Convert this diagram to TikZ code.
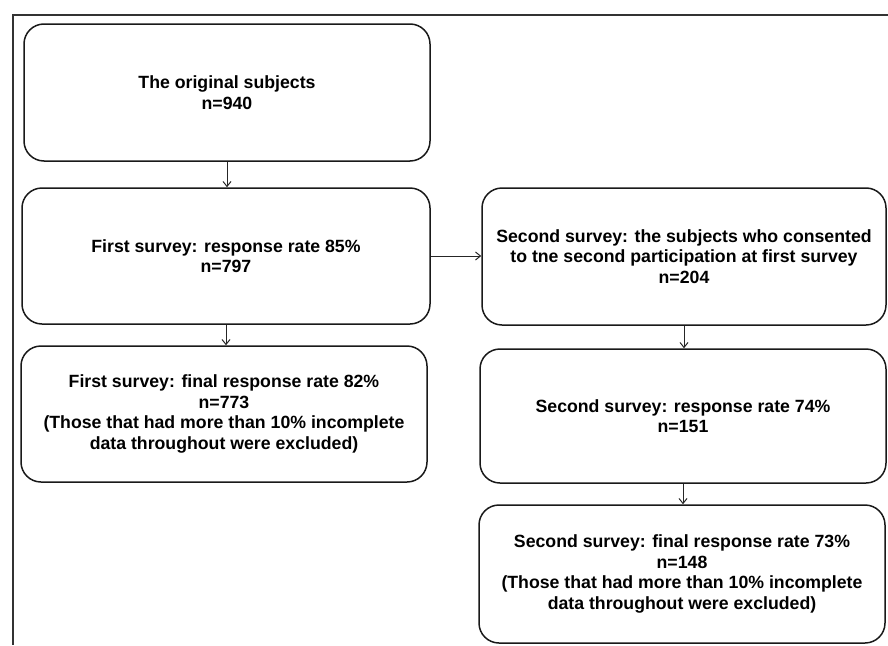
\documentclass[tikz,border=0pt]{standalone}
\usepackage{fontspec}
\setmainfont{Liberation Sans}
\usetikzlibrary{arrows.meta}
\begin{document}
\begin{tikzpicture}[x=1pt,y=-1pt,
  flowbox/.style={draw=black!90, line width=1.5pt, rounded corners=20pt,
    inner sep=0pt, align=center,
    font=\fontsize{17.7}{20.5}\selectfont\bfseries},
  flowarrow/.style={draw=black!85, line width=1pt,
    -{Straight Barb[length=5pt,width=8pt]}}]
\useasboundingbox (0,0) rectangle (888,645);
\draw[line width=1.6pt, black!80] (888,15) -- (13,15) -- (13,645);
\node[flowbox, minimum width=406pt, minimum height=137pt] (b1) at (227,92.5)
  {The original subjects\\n=940};
\node[flowbox, minimum width=408pt, minimum height=136pt] (b2) at (226,256)
  {First survey: response rate 85\%\\n=797};
\node[flowbox, minimum width=406pt, minimum height=136pt] (b3) at (224,414)
  {First survey: final response rate 82\%\\n=773\\(Those that had more than 10\% incomplete\\data throughout were excluded)};
\node[flowbox, minimum width=404pt, minimum height=137pt] (b4) at (684,256.5)
  {Second survey: the subjects who consented\\to tne second participation at first survey\\n=204};
\node[flowbox, minimum width=406pt, minimum height=134pt] (b5) at (683,416)
  {Second survey: response rate 74\%\\n=151};
\node[flowbox, minimum width=406pt, minimum height=138pt] (b6) at (682,574)
  {Second survey: final response rate 73\%\\n=148\\(Those that had more than 10\% incomplete\\data throughout were excluded)};
\draw[flowarrow] (b1.south) -- (b1.south |- b2.north);
\draw[flowarrow] (b2.south) -- (b2.south |- b3.north);
\draw[flowarrow] (b2.east) -- (b2.east -| b4.west);
\draw[flowarrow] (b4.south) -- (b4.south |- b5.north);
\draw[flowarrow] (b5.south) -- (b5.south |- b6.north);
\end{tikzpicture}
\end{document}
